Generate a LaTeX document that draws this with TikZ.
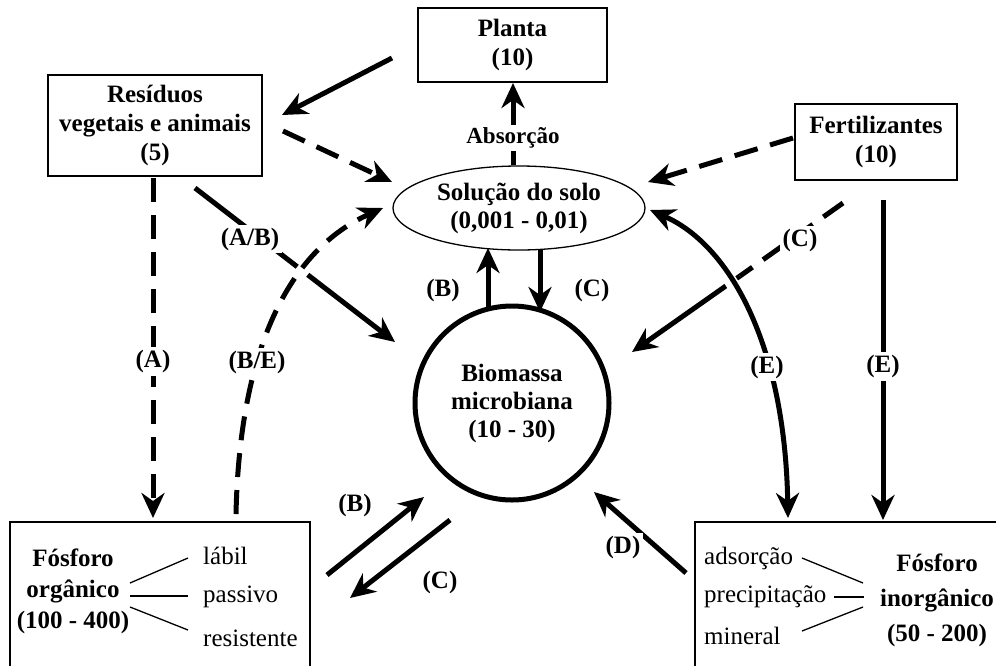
\documentclass[tikz,border=0pt]{standalone}
\usepackage{fontspec}
\setmainfont{Liberation Serif}
\usetikzlibrary{arrows.meta,shapes.geometric}
\begin{document}
\begin{tikzpicture}[x=1pt,y=-1pt,
  every node/.style={font=\fontsize{25}{29}\selectfont, inner sep=0pt},
  boxnode/.style={draw, line width=2.4pt, align=center, font=\fontsize{25}{29}\selectfont\bfseries},
  flow/.style={line width=5pt, -{Stealth[length=25pt,width=23pt,inset=8pt]}},
  dflow/.style={flow, dash pattern=on 24pt off 13pt},
  lab/.style={font=\fontsize{25}{29}\selectfont\bfseries, fill=white, inner sep=3pt},
  thinl/.style={line width=1.3pt},
  gapped/.style={preaction={draw=white, line width=13pt, solid, -}}
]
\useasboundingbox (0,0) rectangle (996,665);
\fill[white] (0,0) rectangle (996,665);

% main nodes
\node[boxnode, minimum width=189pt, minimum height=74pt] (planta) at (512.5,45) {Planta\\(10)};
\node[boxnode, minimum width=214pt, minimum height=101pt] (resid) at (155,125.5) {Resíduos\\vegetais e animais\\(5)};
\node[boxnode, minimum width=162pt, minimum height=76pt] (fert) at (876,142) {Fertilizantes\\(10)};
\node[draw, ellipse, line width=1.3pt, minimum width=252pt, minimum height=84pt, align=center,
      font=\fontsize{25}{28}\selectfont\bfseries] (sol) at (519,208) {Solução do solo\\(0,001 - 0,01)};
\node[draw, circle, line width=5pt, minimum size=194pt, align=center,
      font=\fontsize{25}{28}\selectfont\bfseries] (bio) at (512,403) {Biomassa\\microbiana\\(10 - 30)};

% Fosforo organico
\node[draw, line width=2.4pt, minimum width=300pt, minimum height=160pt] (porg) at (160,602) {};
\node[align=center, font=\fontsize{25}{31}\selectfont\bfseries] (porgt) at (73,591) {Fósforo\\orgânico\\(100 - 400)};
\node[anchor=west] (labil) at (203,556) {lábil};
\node[anchor=west] (passivo) at (203,597) {passivo};
\node[anchor=west] (resist) at (203,638) {resistente};
\coordinate (o1) at (130,583);
\coordinate (o2) at (130,596);
\coordinate (o3) at (130,607);
\coordinate (o1e) at (188,558);
\coordinate (o2e) at (188,596);
\coordinate (o3e) at (188,630);
\draw[thinl] (o1) -- (o1e);
\draw[thinl] (o2) -- (o2e);
\draw[thinl] (o3) -- (o3e);

% Fosforo inorganico
\node[draw, line width=2.4pt, minimum width=320pt, minimum height=160pt] (pin) at (855,602) {};
\node[anchor=west] (adsor) at (704,558) {adsorção};
\node[anchor=west] (precip) at (704,597) {precipitação};
\node[anchor=west] (miner) at (704,636) {mineral};
\node[align=center, font=\fontsize{25}{35}\selectfont\bfseries] (pint) at (937,600) {Fósforo\\inorgânico\\(50 - 200)};
\coordinate (i1) at (802,558);
\coordinate (i2) at (834,597);
\coordinate (i3) at (802,631);
\coordinate (i1e) at (863,583);
\coordinate (i2e) at (864,597);
\coordinate (i3e) at (863,607);
\draw[thinl] (i1) -- (i1e);
\draw[thinl] (i2) -- (i2e);
\draw[thinl] (i3) -- (i3e);

% connector end points
\coordinate (pl-a) at (392,58);   \coordinate (re-a) at (282,115);
\coordinate (so-up) at (513,165); \coordinate (pl-in) at (513,83);
\coordinate (re-b) at (283,131);  \coordinate (so-l) at (392,182);
\coordinate (fe-a) at (793,138);  \coordinate (so-r) at (648,182);
\coordinate (re-c) at (195,188);  \coordinate (bi-a) at (395,342);
\coordinate (re-d) at (153,178);  \coordinate (po-a) at (153,518);
\coordinate (po-b) at (236,514);  \coordinate (so-ll) at (383,208);
\coordinate (bi-up) at (488,308); \coordinate (so-b1) at (488,248);
\coordinate (so-b2) at (540,250); \coordinate (bi-top) at (540,312);
\coordinate (fe-b) at (843,203);  \coordinate (fe-mid) at (740,276); \coordinate (bi-r) at (632,352);
\coordinate (so-rr) at (650,210); \coordinate (pi-a) at (788,518);
\coordinate (fe-c) at (883,200);  \coordinate (pi-b) at (883,520);
\coordinate (po-c) at (327,575);  \coordinate (bi-b) at (424,497);
\coordinate (bi-c) at (450,520);  \coordinate (po-d) at (350,598);
\coordinate (pi-c) at (686,573);  \coordinate (bi-d) at (594,492);

% connectors
\draw[flow] (pl-a) -- (re-a);
\draw[flow] (so-up) -- (pl-in) node[lab, pos=0.33, font=\fontsize{23}{26}\selectfont\bfseries] {Absorção};
\draw[dflow] (re-b) -- (so-l);
\draw[dflow] (fe-a) -- (so-r);
\draw[flow] (re-c) -- (bi-a);
\node[lab] (lab1) at (250,239) {(A/B)};
\draw[dflow] (re-d) -- (po-a) node[lab, pos=0.54] {(A)};
\draw[dflow, gapped] (po-b) .. controls (240,330) and (300,245) .. (so-ll);
\node[lab] (lbe) at (257,362) {(B/E)};
\draw[flow] (bi-up) -- (so-b1);
\draw[flow] (so-b2) -- (bi-top);
\node[lab] (lb1) at (443,290) {(B)};
\node[lab] (lc1) at (592,290) {(C)};
\draw[line width=5pt, dash pattern=on 24pt off 13pt] (fe-b) -- (fe-mid);
\draw[flow] (fe-mid) -- (bi-r);
\node[lab] (lc2) at (800,240) {(C)};
\draw[line width=5pt, {Stealth[length=25pt,width=23pt,inset=8pt]}-{Stealth[length=25pt,width=23pt,inset=8pt]}, gapped]
  (so-rr) .. controls (730,245) and (785,345) .. (pi-a);
\node[lab] (le1) at (767,367) {(E)};
\draw[flow] (fe-c) -- (pi-b) node[lab, pos=0.52] {(E)};
\draw[flow] (po-c) -- (bi-b);
\draw[flow] (bi-c) -- (po-d);
\draw[flow] (pi-c) -- (bi-d);
\node[lab] (lb2) at (355,505) {(B)};
\node[lab] (lc3) at (440,582) {(C)};
\node[lab] (ld) at (623,547) {(D)};
\end{tikzpicture}
\end{document}
